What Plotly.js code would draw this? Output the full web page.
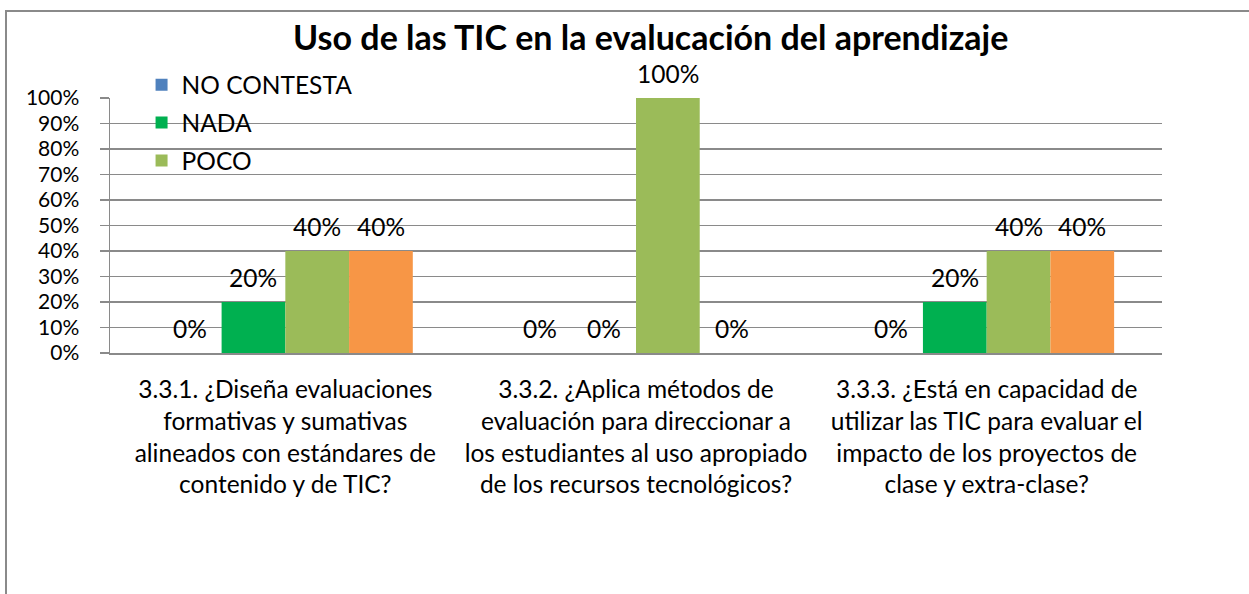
<!DOCTYPE html>
<html>
<head>
<meta charset="utf-8">
<script src="https://cdn.plot.ly/plotly-3.0.1.min.js"></script>
<style>
  html, body { margin: 0; padding: 0; background: #fff; }
  #wrap { position: relative; width: 1249px; height: 594px; overflow: hidden; }
  #chart { position: absolute; left: 0; top: 0; width: 1249px; height: 594px; }
  #frame { position: absolute; left: 5px; top: 10px; width: 1300px; height: 700px;
           border-left: 2px solid #8a8a8a; border-top: 2px solid #8a8a8a; pointer-events: none; }
</style>
</head>
<body>
<div id="wrap"><div id="chart"></div><div id="frame"></div></div>
<script>
const chartTitle = 'Uso de las TIC en la evalucación del aprendizaje';
const categories = [
  '3.3.1. ¿Diseña evaluaciones<br>formativas y sumativas<br>alineados con estándares de<br>contenido y de TIC?',
  '3.3.2. ¿Aplica métodos de<br>evaluación para direccionar a<br>los estudiantes al uso apropiado<br>de los recursos tecnológicos?',
  '3.3.3. ¿Está en capacidad de<br>utilizar las TIC para evaluar el<br>impacto de los proyectos de<br>clase y extra-clase?'
];
const seriesNames = ['NO CONTESTA', 'NADA', 'POCO', 'ALGO'];
const noContesta = [0, 0, 0];
const nada = [0.20, 0, 0.20];
const poco = [0.40, 1.00, 0.40];
const algo = [0.40, 0, 0.40];
const seriesValues = [noContesta, nada, poco, algo];
const seriesColors = ['#4F81BD', '#00B050', '#9BBB59', '#F79646'];
const showInLegend = [true, true, true, false];
const yTickVals = [0, 0.1, 0.2, 0.3, 0.4, 0.5, 0.6, 0.7, 0.8, 0.9, 1.0];

const FONT = 'Lato, "Open Sans", "Liberation Sans", sans-serif';
const FS = 24.5;
const bargap = 0.273;
const nS = seriesValues.length;
const barW = (1 - bargap) / nS;

const traces = seriesValues.map((vals, i) => ({
  type: 'bar',
  name: seriesNames[i],
  x: categories,
  y: vals,
  marker: { color: seriesColors[i] },
  showlegend: showInLegend[i],
  legendgroup: 'g' + i,
  hoverinfo: 'skip'
}));

const annotations = [];
seriesValues.forEach((vals, si) => {
  vals.forEach((v, ci) => {
    annotations.push({
      xref: 'x', yref: 'y',
      x: ci + (si - (nS - 1) / 2) * barW,
      y: v,
      text: Math.round(v * 100) + '%',
      showarrow: false,
      xanchor: 'center', yanchor: 'middle',
      yshift: 25,
      font: { family: FONT, size: FS, color: '#000' }
    });
  });
});

const layout = {
  width: 1249, height: 594,
  margin: { l: 110, r: 87, t: 98, b: 241 },
  paper_bgcolor: '#fff', plot_bgcolor: '#fff',
  font: { family: FONT, size: FS, color: '#000' },
  title: {
    text: '<b>' + chartTitle + '</b>',
    font: { family: FONT, size: 34, color: '#000' },
    x: 0.514, xref: 'paper', xanchor: 'center',
    y: 1 - 38 / 594, yref: 'container', yanchor: 'middle'
  },
  barmode: 'group', bargap: bargap, bargroupgap: 0,
  showlegend: true,
  legend: {
    x: 0.03, xanchor: 'left', y: 1.14, yanchor: 'top',
    bgcolor: 'rgba(0,0,0,0)', font: { family: FONT, size: FS, color: '#000' },
    tracegroupgap: 3, traceorder: 'grouped'
  },
  xaxis: {
    type: 'category',
    showline: true, linecolor: '#8a8a8a', linewidth: 1.5,
    ticks: '', showgrid: false,
    tickfont: { family: FONT, size: FS, color: '#000' },
    ticklabelstandoff: 14,
    fixedrange: true
  },
  yaxis: {
    range: [0, 1], tickvals: yTickVals, tickformat: '.0%',
    showline: true, linecolor: '#8a8a8a', linewidth: 1.5,
    showgrid: true, gridcolor: '#8a8a8a', gridwidth: 1.5,
    zeroline: false,
    ticks: 'outside', ticklen: 9, tickcolor: '#8a8a8a', tickwidth: 1.5,
    tickfont: { family: FONT, size: 21, color: '#000' },
    ticklabelstandoff: 16,
    fixedrange: true
  },
  annotations: annotations
};

Plotly.newPlot('chart', traces, layout, { staticPlot: true, displayModeBar: false });
</script>
</body>
</html>
